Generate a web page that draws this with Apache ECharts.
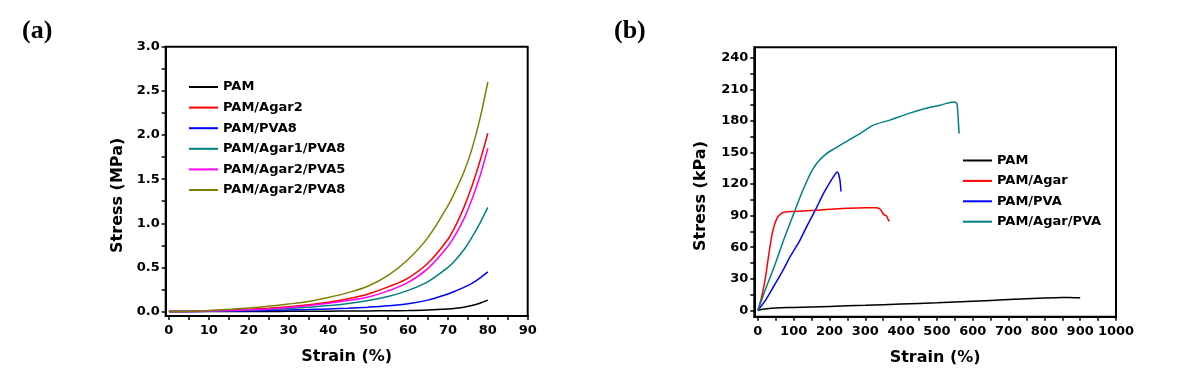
<!DOCTYPE html>
<html>
<head>
<meta charset="utf-8">
<script src="https://cdn.jsdelivr.net/npm/echarts@6/dist/echarts.min.js"></script>
<style>html,body{margin:0;padding:0;background:#fff;}#c{width:1190px;height:379px;}</style>
</head>
<body>
<div id="c"></div>
<script>
// ---- Panel (a) data ----
const aStrain = [0,5,10,15,20,25,30,35,40,45,50,55,60,65,70,72,74,76,78,80];
const aPAM        = [0,0,0.001,0.001,0.002,0.002,0.003,0.004,0.005,0.006,0.008,0.01,0.012,0.018,0.03,0.038,0.05,0.068,0.095,0.13];
const aAgar2      = [0,0.003,0.008,0.015,0.025,0.038,0.055,0.077,0.105,0.145,0.2,0.28,0.38,0.55,0.82,0.98,1.18,1.42,1.7,2.02];
const aPVA8       = [0,0.001,0.003,0.006,0.009,0.013,0.018,0.023,0.03,0.038,0.05,0.066,0.09,0.13,0.2,0.235,0.275,0.32,0.38,0.45];
const aAgar1PVA8  = [0,0.002,0.005,0.01,0.016,0.024,0.034,0.048,0.068,0.092,0.125,0.17,0.24,0.34,0.5,0.59,0.7,0.84,1.0,1.18];
const aAgar2PVA5  = [0,0.002,0.006,0.012,0.02,0.03,0.045,0.067,0.094,0.125,0.165,0.235,0.33,0.49,0.74,0.88,1.05,1.27,1.53,1.85];
const aAgar2PVA8  = [0,0.004,0.012,0.025,0.04,0.06,0.085,0.115,0.16,0.215,0.29,0.41,0.59,0.84,1.2,1.38,1.58,1.84,2.18,2.6];
const aNames = ['PAM','PAM/Agar2','PAM/PVA8','PAM/Agar1/PVA8','PAM/Agar2/PVA5','PAM/Agar2/PVA8'];
const aColors = ['#000000','#ff0000','#0000ff','#008080','#ff00ff','#808000'];
const aXTicks = [0,10,20,30,40,50,60,70,80,90];
const aYTicks = [0,0.5,1,1.5,2,2.5,3];

// ---- Panel (b) data: [strain %, stress kPa] ----
const bPAM = [[0,0],[10,0.8],[25,1.6],[50,2.3],[100,2.8],[200,3.8],[300,4.8],[400,6],[500,7.2],[600,8.7],[700,10.3],[800,11.8],[850,12.3],[870,12.2],[900,12]];
const bAgar = [[0,0],[10,12],[20,29],[27,45],[34,61],[40,73],[48,83],[56,89],[65,92],[75,93.5],[100,94],[150,95],[200,96],[250,97],[300,97.5],[330,97.5],[340,96.5],[346,94],[352,91],[360,89.5],[363,87],[367,84.5]];
const bPVA = [[0,0],[20,9],[44,22.7],[70,38],[90,51],[115,65],[137,80],[160,95],[183,111],[200,121],[215,129],[221,131.5],[225,130],[229,124],[231,118],[232,113]];
const bAgarPVA = [[0,0],[20,19],[44,40],[71,66],[99,91],[123,112],[137,123],[150,132],[165,140],[188,148],[210,153],[230,157],[280,167],[323,176],[370,181],[420,187],[470,192],[509,195],[530,197],[545,198],[555,197],[558,190],[560,178],[562,168]];
const bNames = ['PAM','PAM/Agar','PAM/PVA','PAM/Agar/PVA'];
const bColors = ['#000000','#ff0000','#0000ff','#008080'];
const bXTicks = [0,100,200,300,400,500,600,700,800,900,1000];
const bYTicks = [0,30,60,90,120,150,180,210,240];

const FONT = 'DejaVu Sans';
function ticksBetween(arr){ // majors plus midpoints
  const out=[];
  for(let i=0;i<arr.length;i++){ out.push(arr[i]); if(i<arr.length-1) out.push((arr[i]+arr[i+1])/2); }
  return out;
}
function xAxisCfg(grid,min,max,labels){
  return {type:'value',gridIndex:grid,min:min,max:max,name:'Strain (%)',nameLocation:'middle',nameGap:33,
    nameTextStyle:{fontFamily:FONT,fontWeight:'bold',fontSize:16,color:'#000'},
    axisLine:{show:true,onZero:false,lineStyle:{color:'#000',width:2}},
    axisTick:{show:true,inside:false,length:4,lineStyle:{color:'#000',width:1.5},customValues:ticksBetween(labels)},
    axisLabel:{fontFamily:FONT,fontWeight:'bold',fontSize:13,color:'#000',margin:8,customValues:labels,formatter:v=>String(v)},
    splitLine:{show:false}};
}
function yAxisCfg(grid,min,max,labels,name,fmt,gap){
  return {type:'value',gridIndex:grid,min:min,max:max,name:name,nameLocation:'middle',nameGap:gap,
    nameTextStyle:{fontFamily:FONT,fontWeight:'bold',fontSize:16,color:'#000',padding:[0,28,0,0]},
    axisLine:{show:true,onZero:false,lineStyle:{color:'#000',width:2}},
    axisTick:{show:true,inside:false,length:4,lineStyle:{color:'#000',width:1.5},customValues:ticksBetween(labels)},
    axisLabel:{fontFamily:FONT,fontWeight:'bold',fontSize:13,color:'#000',margin:6,customValues:labels,formatter:fmt},
    splitLine:{show:false}};
}
const series=[];
const aYs=[aPAM,aAgar2,aPVA8,aAgar1PVA8,aAgar2PVA5,aAgar2PVA8];
aYs.forEach((ys,i)=>{
  series.push({type:'line',name:aNames[i],xAxisIndex:0,yAxisIndex:0,symbol:'none',smooth:0.35,
    data:aStrain.map((x,j)=>[x,ys[j]]),lineStyle:{color:aColors[i],width:1.5},itemStyle:{color:aColors[i]},z:2+i});
});
const bData=[bPAM,bAgar,bPVA,bAgarPVA];
bData.forEach((d,i)=>{
  series.push({type:'line',name:bNames[i],xAxisIndex:1,yAxisIndex:1,symbol:'none',smooth:0.25,
    data:d,lineStyle:{color:bColors[i],width:1.5},itemStyle:{color:bColors[i]},z:2+i});
});
const legendCommon={orient:'vertical',itemWidth:29,itemHeight:14,icon:'path://M0,6 L29,6 L29,8 L0,8 Z',
  textStyle:{fontFamily:FONT,fontWeight:'bold',fontSize:13,color:'#000'},selectedMode:false};
const chart=echarts.init(document.getElementById('c'),null,{renderer:'canvas'});
chart.setOption({
  backgroundColor:'#fff',animation:false,
  title:[
    {text:'(a)',left:17,top:13,textStyle:{fontFamily:'Liberation Serif',fontWeight:'bold',fontSize:26,color:'#000'}},
    {text:'(b)',left:609,top:13,textStyle:{fontFamily:'Liberation Serif',fontWeight:'bold',fontSize:26,color:'#000'}}
  ],
  grid:[
    {left:165.7,right:662.3,top:46.7,bottom:63,show:true,borderColor:'#000',borderWidth:2,backgroundColor:'transparent'},
    {left:754.3,right:74,top:47.3,bottom:62.3,show:true,borderColor:'#000',borderWidth:2,backgroundColor:'transparent'}
  ],
  xAxis:[xAxisCfg(0,-0.8,90,aXTicks),xAxisCfg(1,-10,1000,bXTicks)],
  yAxis:[yAxisCfg(0,-0.05,3,aYTicks,'Stress (MPa)',v=>v.toFixed(1),40),yAxisCfg(1,-6,250,bYTicks,'Stress (kPa)',v=>String(v),45)],
  legend:[
    Object.assign({},legendCommon,{left:184,top:75.5,itemGap:7.6,data:aNames.map((n,i)=>({name:n,itemStyle:{color:aColors[i]}}))}),
    Object.assign({},legendCommon,{left:958,top:149,itemGap:7.4,data:bNames.map((n,i)=>({name:n,itemStyle:{color:bColors[i]}}))})
  ],
  series:series
});
</script>
</body>
</html>
